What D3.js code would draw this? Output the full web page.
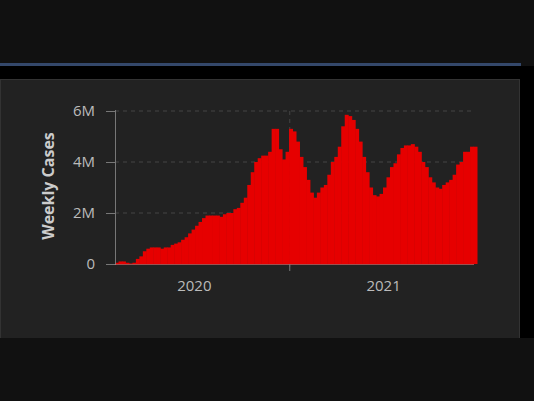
<!DOCTYPE html><html><head><script src="https://cdn.jsdelivr.net/npm/d3@7"></script>
<style>body{margin:0;background:#111}svg{display:block}</style></head><body><svg width="534" height="401"></svg>
<script>
const values=[0.05,0.1,0.1,0.05,0.02,0.05,0.2,0.3,0.5,0.6,0.65,0.65,0.65,0.6,0.65,0.65,0.75,0.8,0.85,0.95,1.05,1.2,1.35,1.5,1.65,1.8,1.9,1.9,1.9,1.9,1.85,1.95,2.0,2.0,2.15,2.2,2.4,2.6,3.1,3.6,4.0,4.15,4.25,4.25,4.4,5.3,5.3,4.5,4.1,4.4,5.3,5.2,4.8,4.2,3.8,3.3,2.8,2.6,2.8,3.0,3.1,3.5,4.0,4.2,4.6,5.4,5.85,5.8,5.65,5.3,4.8,4.2,3.6,3.0,2.7,2.65,2.75,3.0,3.4,3.8,3.95,4.3,4.55,4.65,4.65,4.7,4.6,4.4,4.0,3.8,3.4,3.2,3.0,2.95,3.1,3.2,3.3,3.5,3.9,4.0,4.4,4.4,4.6,4.6];
const yTicks=[0,2,4,6];
const yLabels=["0","2M","4M","6M"];
const yearLabels=["2020","2021"];
const svg=d3.select("svg");
svg.append("rect").attr("x",0).attr("y",63).attr("width",521).attr("height",3).attr("fill","#34486b");
svg.append("rect").attr("x",0).attr("y",66).attr("width",534).attr("height",272).attr("fill","#000");
svg.append("rect").attr("x",0.5).attr("y",79.5).attr("width",519).attr("height",270).attr("fill","#222").attr("stroke","#333");
const y=d3.scaleLinear().domain([0,6]).range([264,111]);
const xb=d3.scaleBand().domain(d3.range(values.length)).range([115,477]).padding(0);
const xt=d3.scaleTime().domain([new Date(2020,0,1),new Date(2022,0,1)]).range([100,479]);
const g=svg.append("g");
yTicks.slice(1).forEach(t=>g.append("line").attr("x1",115).attr("x2",472).attr("y1",y(t)).attr("y2",y(t)).attr("stroke","#444").attr("stroke-dasharray","4,4"));
g.append("line").attr("x1",xt(new Date(2021,0,1))).attr("x2",xt(new Date(2021,0,1))).attr("y1",111).attr("y2",270).attr("stroke","#444").attr("stroke-dasharray","4,4");
g.selectAll("rect.b").data(values).join("rect").attr("x",(d,i)=>xb(i)).attr("width",xb.bandwidth()+0.5)
 .attr("y",d=>y(d)).attr("height",d=>y(0)-y(d)).attr("fill","#e60000");
g.append("line").attr("x1",115.5).attr("x2",115.5).attr("y1",110).attr("y2",265).attr("stroke","#777");
g.append("line").attr("x1",106).attr("x2",474).attr("y1",264.5).attr("y2",264.5).attr("stroke","#f07070").attr("stroke-opacity",0.6);
const ya=g.append("g").attr("transform","translate(115,0)").call(d3.axisLeft(y).tickValues(yTicks).tickFormat((d,i)=>yLabels[i]).tickSize(9).tickPadding(11));
ya.select(".domain").remove();
ya.selectAll("line").attr("stroke","#777");
ya.selectAll("text").attr("fill","#bbb").style("font","15px 'Open Sans',sans-serif");
g.append("line").attr("x1",xt(new Date(2021,0,1))).attr("x2",xt(new Date(2021,0,1))).attr("y1",264).attr("y2",271).attr("stroke","#777");
yearLabels.forEach((l,i)=>g.append("text").attr("x",xt(new Date(2020+i,6,1))).attr("y",291).attr("text-anchor","middle").attr("fill","#bbb").style("font","15px 'Open Sans',sans-serif").text(l));
g.append("text").attr("transform","translate(54,186) rotate(-90)").attr("text-anchor","middle").attr("fill","#ccc").style("font","bold 16px 'Open Sans',sans-serif").text("Weekly Cases");
g.append("text").attr("x",104).attr("y",350).attr("text-anchor","end").attr("fill","#bbb").style("font","15px 'Open Sans',sans-serif").text("150k");
svg.append("rect").attr("x",0).attr("y",338).attr("width",534).attr("height",63).attr("fill","#111");
</script></body></html>
